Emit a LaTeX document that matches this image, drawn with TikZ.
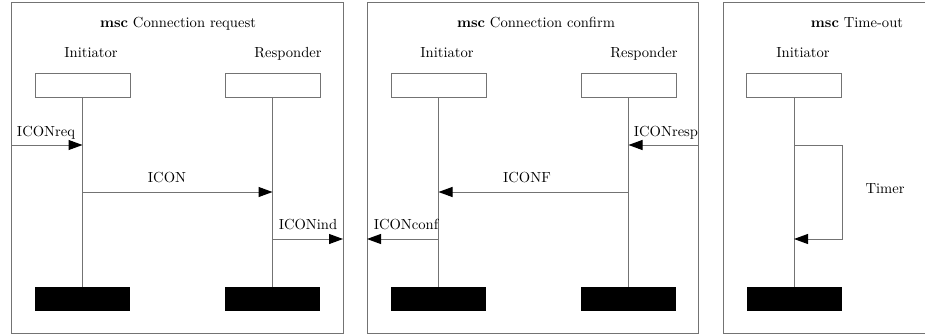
\documentclass[tikz,border=0pt]{standalone}
\usetikzlibrary{arrows.meta}
\begin{document}
\begin{tikzpicture}[x=1pt,y=-1pt,
  every node/.style={inner sep=0pt},
  ln/.style={draw=black!55, line width=1pt},
  frame/.style={ln, fill=none, anchor=north west},
  inst/.style={ln, fill=white, minimum width=95pt, minimum height=24pt},
  endb/.style={fill=black, minimum width=95pt, minimum height=24pt},
  msg/.style={ln, -{Triangle[length=14pt,width=10pt,color=black]}},
  lbl/.style={anchor=base, font=\normalsize, scale=1.46}
]
\clip (0,0) rectangle (925,335);
\useasboundingbox (0,0) rectangle (925,335);
% frames
\node[frame, minimum width=332pt, minimum height=331pt] (f1) at (11,2) {};
\node[frame, minimum width=331pt, minimum height=331pt] (f2) at (367,2) {};
\node[frame, minimum width=220pt, minimum height=331pt] (f3) at (723,2) {};
% titles
\node[lbl] (t1) at (178,27) {\textbf{msc} Connection request};
\node[lbl] (t2) at (536,27) {\textbf{msc} Connection confirm};
\node[lbl] (t3) at (857,27) {\textbf{msc} Time-out};
% instance labels
\node[lbl] (n1) at (91,57) {Initiator};
\node[lbl] (n2) at (288,57) {Responder};
\node[lbl] (n3) at (447,57) {Initiator};
\node[lbl] (n4) at (644,57) {Responder};
\node[lbl] (n5) at (803,57) {Initiator};
% instance heads
\node[inst] (a1) at (82.5,85) {};
\node[inst] (b1) at (272.5,85) {};
\node[inst] (a2) at (438.5,85) {};
\node[inst] (b2) at (628.5,85) {};
\node[inst] (a3) at (794,85) {};
% instance ends
\node[endb] (ae1) at (82.5,299) {};
\node[endb] (be1) at (272.5,299) {};
\node[endb] (ae2) at (438.5,299) {};
\node[endb] (be2) at (628.5,299) {};
\node[endb] (ae3) at (794,299) {};
% lifelines
\foreach \h/\e in {a1/ae1,b1/be1,a2/ae2,b2/be2,a3/ae3}
  \draw[ln] (\h.south) -- (\e.north);
% environment points
\coordinate (env1) at (11,145);
\coordinate (env2) at (343,239);
\coordinate (env3) at (698,145);
\coordinate (env4) at (367,239);
% panel 1 messages
\draw[msg] (env1) -- (a1.south |- env1);
\draw[msg] (a1.south |- 0,192) -- (b1.south |- 0,192);
\draw[msg] (b1.south |- env2) -- (env2);
\node[lbl] (m1) at (46,136) {ICONreq};
\node[lbl] (m2) at (167,182) {ICON};
\node[lbl] (m3) at (308,229) {ICONind};
% panel 2 messages
\draw[msg] (env3) -- (b2.south |- env3);
\draw[msg] (b2.south |- 0,192) -- (a2.south |- 0,192);
\draw[msg] (a2.south |- env4) -- (env4);
\node[lbl] (m4) at (666,136) {ICONresp};
\node[lbl] (m5) at (527,182) {ICONF};
\node[lbl] (m6) at (406,229) {ICONconf};
% panel 3 timer
\coordinate (tm1) at (a3.east |- 0,145);
\coordinate (tm2) at (a3.east |- 0,239);
\draw[msg] (a3.south |- tm1) -- (tm1) -- (tm2) -- (a3.south |- tm2);
\node[lbl] (m7) at (885,193) {Timer};
\end{tikzpicture}
\end{document}
